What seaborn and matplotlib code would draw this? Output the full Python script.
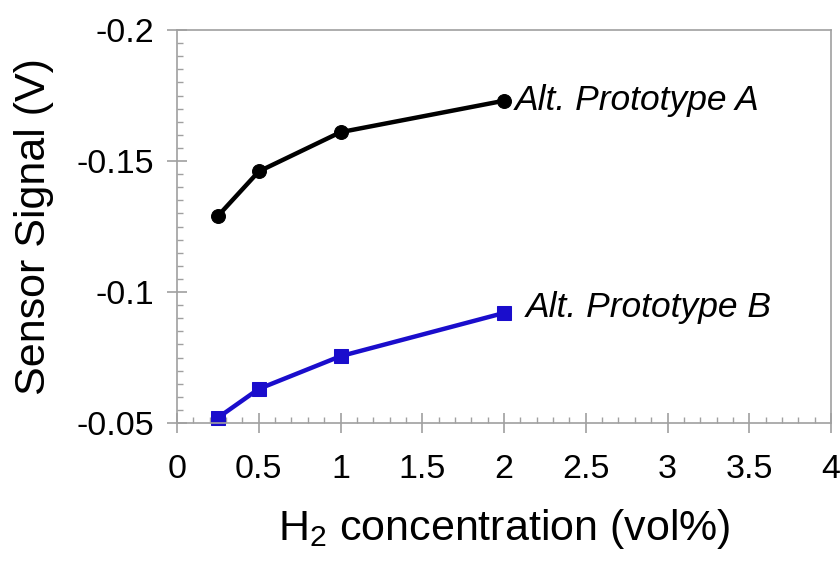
import matplotlib
matplotlib.use("Agg")
import matplotlib.pyplot as plt
import seaborn as sns
import pandas as pd
from matplotlib.ticker import MultipleLocator, FixedLocator

# ---- data ----
concentration = [0.25, 0.5, 1.0, 2.0]
signal_a = [-0.129, -0.146, -0.161, -0.173]
signal_b = [-0.052, -0.063, -0.0755, -0.092]
label_a = "Alt. Prototype A"
label_b = "Alt. Prototype B"
x_ticks = [0, 0.5, 1, 1.5, 2, 2.5, 3, 3.5, 4]
x_tick_labels = ["0", "0.5", "1", "1.5", "2", "2.5", "3", "3.5", "4"]
y_ticks = [-0.2, -0.15, -0.1, -0.05]
y_tick_labels = ["-0.2", "-0.15", "-0.1", "-0.05"]

sns.set_style("white")
plt.rcParams["font.family"] = ["Liberation Sans", "DejaVu Sans"]
plt.rcParams["mathtext.fontset"] = "custom"
plt.rcParams["mathtext.rm"] = "Liberation Sans"
plt.rcParams["mathtext.it"] = "Liberation Sans:italic"
plt.rcParams["text.color"] = "black"
plt.rcParams["axes.labelcolor"] = "black"
plt.rcParams["xtick.color"] = "black"
plt.rcParams["ytick.color"] = "black"

df_a = pd.DataFrame({"x": concentration, "y": signal_a})
df_b = pd.DataFrame({"x": concentration, "y": signal_b})

fig = plt.figure(figsize=(8.4, 5.66), dpi=100)
ax = fig.add_axes([177 / 840, 1 - 423 / 566, (831 - 177) / 840, (423 - 30) / 566])

sns.lineplot(data=df_a, x="x", y="y", ax=ax, color="black", lw=3.2,
             marker="o", markersize=10, markeredgecolor="black", clip_on=False)
sns.lineplot(data=df_b, x="x", y="y", ax=ax, color="#1a0dcc", lw=3.2,
             marker="s", markersize=10.5, markeredgecolor="#1a0dcc", clip_on=False)

ax.set_xlim(0, 4)
ax.set_ylim(-0.05, -0.2)

gray = "#a0a0a0"
for s in ax.spines.values():
    s.set_color(gray)
    s.set_linewidth(1.2)
    s.set_visible(True)

ax.xaxis.set_major_locator(FixedLocator(x_ticks))
ax.set_xticklabels(x_tick_labels)
ax.yaxis.set_major_locator(FixedLocator(y_ticks))
ax.set_yticklabels(y_tick_labels)
ax.xaxis.set_minor_locator(MultipleLocator(0.1))
ax.yaxis.set_minor_locator(MultipleLocator(0.005))

ax.tick_params(axis="both", which="major", direction="inout", length=15,
               width=1.2, color=gray, labelsize=24.5, labelcolor="black")
ax.tick_params(axis="y", which="major", pad=9)
ax.tick_params(axis="x", which="major", pad=15)
ax.tick_params(axis="both", which="minor", direction="in", length=4,
               width=1, color=gray)
ax.tick_params(bottom=True, left=True, top=False, right=False, which="both")

ax.set_xlabel("H$_{2}$ concentration (vol%)", fontsize=31, labelpad=16, color="black")
ax.set_ylabel("Sensor Signal (V)", fontsize=31, labelpad=16, color="black")

ax.annotate(label_a, xy=(concentration[-1], signal_a[-1]), xytext=(8, 0),
            textcoords="offset points", fontsize=25.5, style="italic",
            va="center", ha="left", color="black")
ax.annotate(label_b, xy=(concentration[-1], signal_b[-1]), xytext=(16, 4),
            textcoords="offset points", fontsize=25.5, style="italic",
            va="center", ha="left", color="black")

ax.grid(False)
fig.savefig("out.png", dpi=100)
